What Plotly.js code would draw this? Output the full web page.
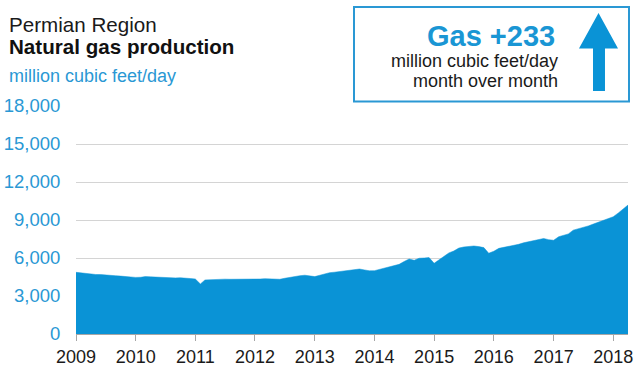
<!DOCTYPE html>
<html>
<head>
<meta charset="utf-8">
<script src="https://cdn.plot.ly/plotly-3.0.1.min.js"></script>
<style>
  html, body { margin: 0; padding: 0; background: #ffffff; }
  #chart { width: 640px; height: 376px; }
</style>
</head>
<body>
<div id="chart"></div>
<script>
// Monthly Permian natural gas production, million cubic feet/day, Jan 2009 - Apr 2018
const startYear = 2009;
const gasProduction = [
  // 2009
  4870, 4820, 4770, 4740, 4700, 4690, 4680, 4640, 4600, 4570, 4530, 4500,
  // 2010
  4470, 4480, 4530, 4510, 4490, 4440, 4420, 4420, 4430, 4440, 4430, 4380,
  // 2011
  4340, 3950, 4270, 4300, 4310, 4320, 4330, 4320, 4320, 4310, 4310, 4320,
  // 2012
  4320, 4340, 4370, 4350, 4330, 4320, 4400, 4480, 4550, 4600, 4640, 4580,
  // 2013
  4530, 4640, 4760, 4840, 4880, 4920, 4960, 5010, 5090, 5130, 5060, 4990,
  // 2014
  5000, 5100, 5210, 5310, 5410, 5500, 5720, 5920, 5820, 5980, 6000, 6030,
  // 2015
  5580, 5850, 6080, 6400, 6550, 6780, 6870, 6920, 6950, 6900, 6820, 6380,
  // 2016
  6530, 6760, 6830, 6900, 6970, 7080, 7200, 7300, 7400, 7500, 7540, 7450,
  // 2017
  7400, 7680, 7780, 7900, 8200, 8300, 8370, 8530, 8680, 8830, 8980, 9120,
  // 2018
  9260, 9560, 9870, 10180
];
const yTicks = [0, 3000, 6000, 9000, 12000, 15000, 18000];
const yTickLabels = ["0", "3,000", "6,000", "9,000", "12,000", "15,000", "18,000"];
const xTickYears = ["2009","2010","2011","2012","2013","2014","2015","2016","2017","2018"];

const titleLine1 = "Permian Region";
const titleLine2 = "Natural gas production";
const unitLabel = "million cubic feet/day";
const boxHeadline = "Gas +233";
const boxLine1 = "million cubic feet/day";
const boxLine2 = "month over month";

// month dates
const months = gasProduction.map((v, i) => {
  const y = startYear + Math.floor(i / 12);
  const m = (i % 12) + 1;
  return y + "-" + String(m).padStart(2, "0") + "-01";
});

const BLUE = "#0a93d6";
const TEXTBLUE = "#2a98d4";
const FONT = "Liberation Sans, Arial, sans-serif";

const trace = {
  x: months,
  y: gasProduction,
  type: "scatter",
  mode: "lines",
  fill: "tozeroy",
  fillcolor: BLUE,
  line: { color: BLUE, width: 0.5, shape: "linear" },
  hoverinfo: "skip"
};

// plot area in pixels: x 76..628, y 106..334
const L = 76, R = 628, T = 106, B = 334;
const px = v => (v - L) / (R - L);
const py = v => (B - v) / (B - T);

const arrowPts = [
  [598.5, 13], [618, 48.5], [605, 48.5], [605, 91], [593, 91], [593, 48.5], [579, 48.5]
];
const arrowPath = "M " + arrowPts.map(p => px(p[0]).toFixed(4) + "," + py(p[1]).toFixed(4)).join(" L ") + " Z";

const layout = {
  width: 640,
  height: 376,
  margin: { l: L, r: 640 - R, t: T, b: 376 - B, pad: 0 },
  paper_bgcolor: "#ffffff",
  plot_bgcolor: "#ffffff",
  showlegend: false,
  font: { family: FONT },
  xaxis: {
    type: "date",
    range: [months[0], months[months.length - 1]],
    tickvals: xTickYears.map(y => y + "-01-01"),
    ticktext: xTickYears,
    ticks: "outside",
    ticklen: 6,
    tickwidth: 1,
    tickcolor: "#a6a6a6",
    showline: true,
    linecolor: "#a6a6a6",
    linewidth: 1,
    showgrid: false,
    zeroline: false,
    tickfont: { family: FONT, size: 18, color: "#1a1a1a" },
    fixedrange: true
  },
  yaxis: {
    range: [0, 18000],
    tickvals: yTicks,
    ticktext: yTickLabels,
    ticks: "outside",
    ticklen: 11,
    tickcolor: "rgba(0,0,0,0)",
    showgrid: true,
    gridcolor: "#d4d4d4",
    gridwidth: 1,
    zeroline: false,
    showline: false,
    tickfont: { family: FONT, size: 18.5, color: TEXTBLUE },
    fixedrange: true
  },
  shapes: [
    {
      type: "rect", xref: "paper", yref: "paper",
      x0: px(354), x1: px(629), y0: py(101.5), y1: py(7),
      line: { color: "#2a98d4", width: 2 },
      fillcolor: "#ffffff",
      layer: "above"
    },
    {
      type: "path", xref: "paper", yref: "paper",
      path: arrowPath,
      fillcolor: BLUE,
      line: { width: 0 },
      layer: "above"
    }
  ],
  annotations: [
    { text: titleLine1, xref: "paper", yref: "paper", x: px(7), y: py(24), xanchor: "left", yanchor: "middle",
      showarrow: false, font: { family: FONT, size: 20.6, color: "#1a1a1a" } },
    { text: "<b>" + titleLine2 + "</b>", xref: "paper", yref: "paper", x: px(7), y: py(47), xanchor: "left", yanchor: "middle",
      showarrow: false, font: { family: FONT, size: 20.6, color: "#111111" } },
    { text: unitLabel, xref: "paper", yref: "paper", x: px(7), y: py(75.5), xanchor: "left", yanchor: "middle",
      showarrow: false, font: { family: FONT, size: 18, color: TEXTBLUE } },
    { text: "<b>" + boxHeadline + "</b>", xref: "paper", yref: "paper", x: px(557), y: py(35.5), xanchor: "right", yanchor: "middle",
      showarrow: false, font: { family: FONT, size: 29, color: "#1a96d4" } },
    { text: boxLine1, xref: "paper", yref: "paper", x: px(560), y: py(60.5), xanchor: "right", yanchor: "middle",
      showarrow: false, font: { family: FONT, size: 18, color: "#1a1a1a" } },
    { text: boxLine2, xref: "paper", yref: "paper", x: px(560), y: py(81), xanchor: "right", yanchor: "middle",
      showarrow: false, font: { family: FONT, size: 18, color: "#1a1a1a" } }
  ]
};

Plotly.newPlot("chart", [trace], layout, { staticPlot: true, displayModeBar: false });
</script>
</body>
</html>
